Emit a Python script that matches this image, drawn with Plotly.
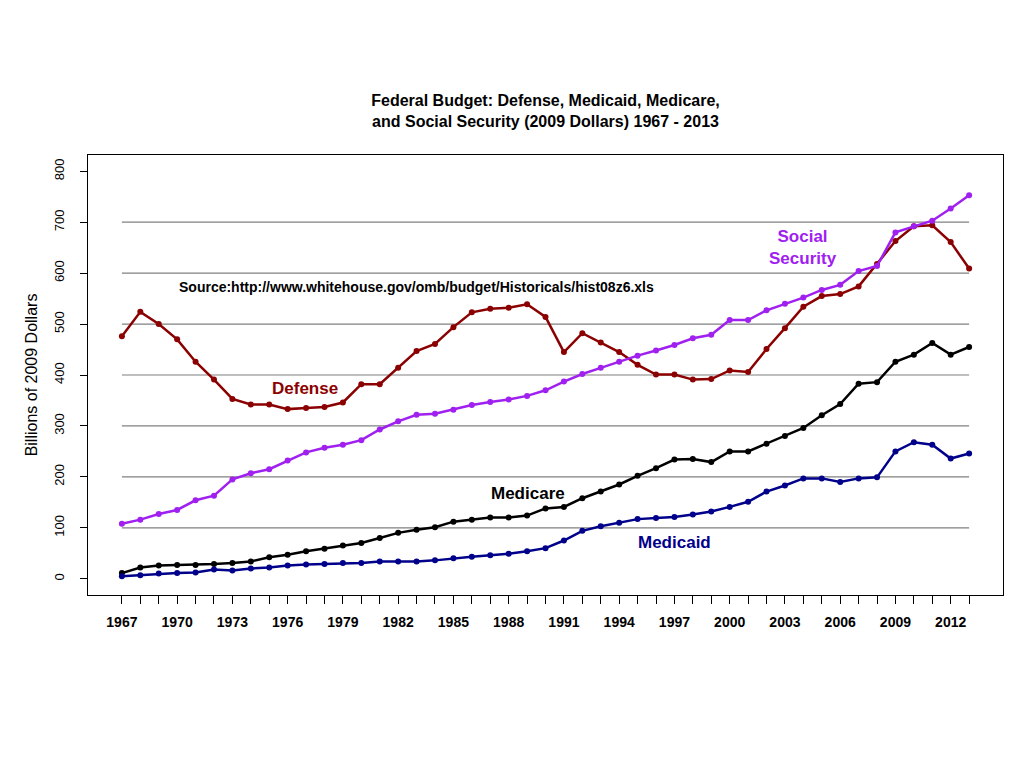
import plotly.graph_objects as go

years = list(range(1967, 2014))

defense = [476, 524, 500, 470, 426, 391, 353, 342, 342, 333, 335, 337, 346, 382, 382,
           414, 447, 461, 494, 523, 530, 532, 539, 514, 445, 482, 464, 445, 420, 401,
           401, 391, 392, 409, 406, 451, 492, 534, 555, 559, 574, 618, 663, 692, 694,
           661, 609]

social_security = [108, 116, 127, 135, 154, 163, 195, 207, 215, 232, 248, 257, 263, 272, 293,
                   309, 322, 324, 332, 341, 347, 352, 359, 370, 387, 402, 414, 426, 438, 448,
                   459, 472, 479, 508, 508, 527, 540, 552, 567, 577, 604, 614, 680, 692, 703,
                   727, 753]

medicare = [11, 22, 26, 27, 27, 29, 31, 34, 42, 47, 54, 59, 65, 70, 80,
            90, 96, 101, 112, 116, 120, 120, 124, 138, 141, 158, 171, 185, 202, 217,
            234, 235, 229, 250, 250, 265, 280, 296, 321, 343, 383, 386, 426, 440, 463,
            440, 455]

medicaid = [5, 7, 10, 11, 12, 18, 16, 20, 22, 26, 28, 29, 31, 31, 34,
            34, 34, 36, 40, 43, 46, 49, 54, 60, 75, 94, 103, 110, 117, 119,
            121, 126, 132, 141, 151, 171, 183, 197, 197, 190, 197, 199, 250, 268, 263,
            236, 246]

y_ticks = [0, 100, 200, 300, 400, 500, 600, 700, 800]
grid_levels = [100, 200, 300, 400, 500, 600, 700]
x_tick_labels = [str(y) if (y - 1967) % 3 == 0 else "" for y in years]

series = [
    ("Defense", defense, "#8B0000"),
    ("Social Security", social_security, "#A020F0"),
    ("Medicare", medicare, "#000000"),
    ("Medicaid", medicaid, "#00008B"),
]

FONT = "Liberation Sans, Arial, sans-serif"

fig = go.Figure()
for name, vals, col in series:
    fig.add_trace(go.Scatter(
        x=years, y=vals, mode="lines+markers", name=name,
        line=dict(color=col, width=2.5),
        marker=dict(color=col, size=6),
        showlegend=False,
    ))

for g in grid_levels:
    fig.add_shape(type="line", xref="x", yref="y", x0=years[0], x1=years[-1],
                  y0=g, y1=g, line=dict(color="#808080", width=1.2), layer="below")

labels = [
    ("Source:http://www.whitehouse.gov/omb/budget/Historicals/hist08z6.xls", 1982.97, 572, "#000000", 14),
    ("Defense", 1976.96, 373, "#8B0000", 17),
    ("Social<br>Security", 2003.98, 650, "#A020F0", 17),
    ("Medicare", 1989.04, 167, "#000000", 17),
    ("Medicaid", 1997.0, 71, "#00008B", 17),
]
for txt, xx, yy, col, sz in labels:
    fig.add_annotation(x=xx, y=yy, xref="x", yref="y", text="<b>" + txt + "</b>",
                       showarrow=False, font=dict(family=FONT, size=sz, color=col),
                       xanchor="center", yanchor="middle")

# page body has an 8px margin, so the figure is drawn 8px in from the window edge
W, H = 1016, 760
fig.update_layout(
    width=W, height=H,
    paper_bgcolor="white", plot_bgcolor="white",
    margin=dict(l=80, r=21, t=147, b=173),
    title=dict(
        text="<b>Federal Budget: Defense, Medicaid, Medicare,<br>and Social Security (2009 Dollars) 1967 - 2013</b>",
        x=537.5 / W, xanchor="center",
        y=1 - 98 / H, yanchor="middle",
        font=dict(family=FONT, size=16, color="#000000"),
    ),
    font=dict(family=FONT, color="#000000"),
)

fig.update_xaxes(
    range=[1965.16, 2014.84],
    tickmode="array", tickvals=years, ticktext=x_tick_labels,
    ticks="outside", ticklen=8, tickcolor="#000000", tickwidth=1,
    tickfont=dict(family=FONT, size=14, color="#000000", weight="bold"),
    showgrid=False, zeroline=False,
    showline=True, linecolor="#000000", linewidth=1, mirror=True,
    ticklabelstandoff=6,
)
fig.update_yaxes(
    range=[-32, 832],
    tickmode="array", tickvals=y_ticks, ticktext=[str(v) for v in y_ticks],
    tickangle=-90,
    ticks="outside", ticklen=7, tickcolor="#000000", tickwidth=1,
    tickfont=dict(family=FONT, size=13, color="#000000"),
    showgrid=False, zeroline=False,
    showline=True, linecolor="#000000", linewidth=1, mirror=True,
    ticklabelstandoff=11,
    title=dict(text="Billions of 2009 Dollars", font=dict(family=FONT, size=16, color="#000000"), standoff=10),
)

fig.write_html("out.html")
